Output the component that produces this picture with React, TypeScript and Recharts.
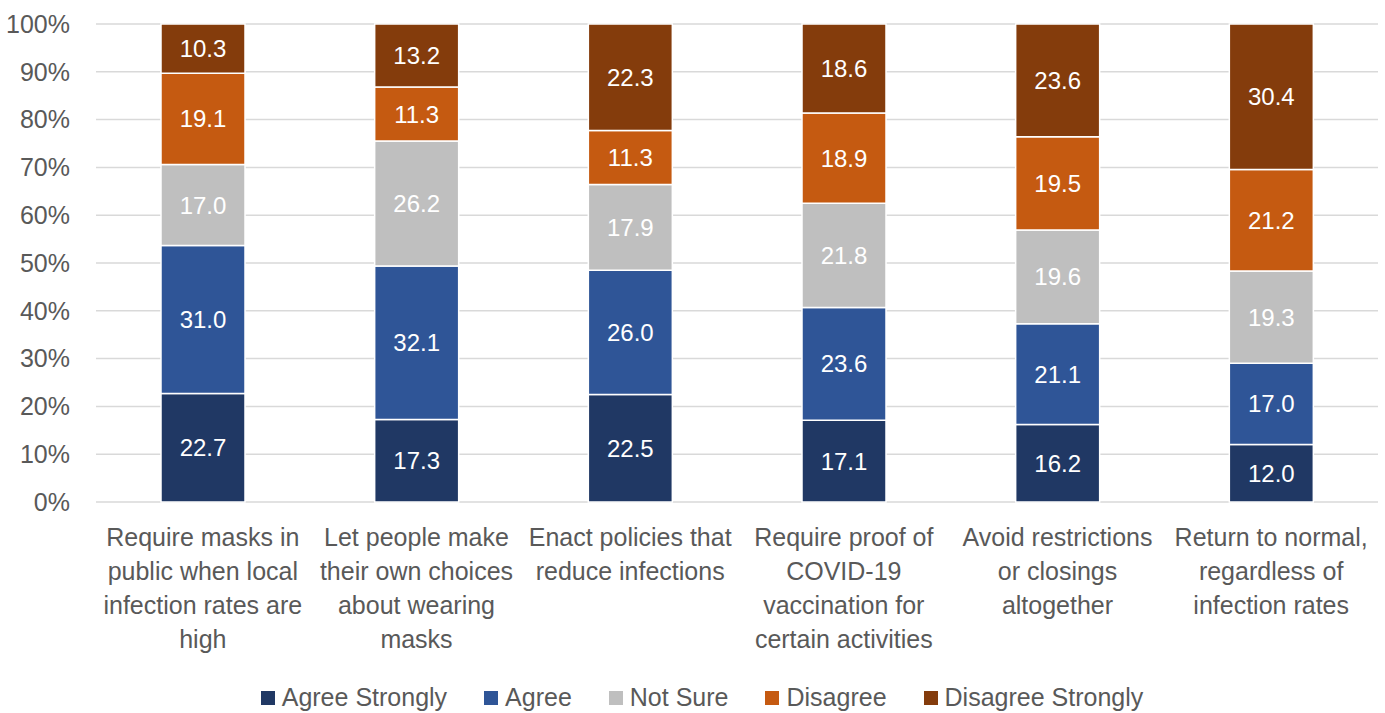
import { BarChart, Bar, XAxis, YAxis, CartesianGrid, Legend, LabelList } from 'recharts';

const categories = [
  'Require masks in public when local infection rates are high',
  'Let people make their own choices about wearing masks',
  'Enact policies that reduce infections',
  'Require proof of COVID-19 vaccination for certain activities',
  'Avoid restrictions or closings altogether',
  'Return to normal, regardless of infection rates',
];

// how the category labels wrap in the reference
const categoryLines = [
  ['Require masks in', 'public when local', 'infection rates are', 'high'],
  ['Let people make', 'their own choices', 'about wearing', 'masks'],
  ['Enact policies that', 'reduce infections'],
  ['Require proof of', 'COVID-19', 'vaccination for', 'certain activities'],
  ['Avoid restrictions', 'or closings', 'altogether'],
  ['Return to normal,', 'regardless of', 'infection rates'],
];

const agreeStrongly = [22.7, 17.3, 22.5, 17.1, 16.2, 12.0];
const agree = [31.0, 32.1, 26.0, 23.6, 21.1, 17.0];
const notSure = [17.0, 26.2, 17.9, 21.8, 19.6, 19.3];
const disagree = [19.1, 11.3, 11.3, 18.9, 19.5, 21.2];
const disagreeStrongly = [10.3, 13.2, 22.3, 18.6, 23.6, 30.4];

const yTicks = [0, 0.1, 0.2, 0.3, 0.4, 0.5, 0.6, 0.7, 0.8, 0.9, 1];

const series = [
  { key: 'agreeStrongly', name: 'Agree Strongly', color: '#203864' },
  { key: 'agree', name: 'Agree', color: '#2F5597' },
  { key: 'notSure', name: 'Not Sure', color: '#BFBFBF' },
  { key: 'disagree', name: 'Disagree', color: '#C55A11' },
  { key: 'disagreeStrongly', name: 'Disagree Strongly', color: '#843C0C' },
];

const FONT = '"Liberation Sans", Arial, sans-serif';
const TEXT = '#595959';

const data = categories.map((name, i) => ({
  name,
  agreeStrongly: agreeStrongly[i],
  agree: agree[i],
  notSure: notSure[i],
  disagree: disagree[i],
  disagreeStrongly: disagreeStrongly[i],
}));

function CategoryTick({ x, y, index }: any) {
  const lines = categoryLines[index] || [];
  return (
    <text x={x} y={y} textAnchor="middle" fill={TEXT} fontSize={25} fontFamily={FONT}>
      {lines.map((l, i) => (
        <tspan key={i} x={x} dy={i === 0 ? 36 : 34}>
          {l}
        </tspan>
      ))}
    </text>
  );
}

function LegendContent() {
  return (
    <div
      style={{
        display: 'flex',
        justifyContent: 'center',
        alignItems: 'center',
        fontFamily: FONT,
        fontSize: 25,
        color: TEXT,
        paddingTop: 10,
        paddingLeft: 26,
      }}
    >
      {series.map((s, i) => (
        <div key={s.key} style={{ display: 'flex', alignItems: 'center', marginLeft: i === 0 ? 0 : 37 }}>
          <span style={{ width: 14, height: 14, background: s.color, display: 'inline-block', marginRight: 7 }} />
          <span>{s.name}</span>
        </div>
      ))}
    </div>
  );
}

export default function App() {
  return (
    <div style={{ position: 'absolute', left: 0, top: 0, background: '#fff' }}>
      <BarChart
        width={1385}
        height={713}
        data={data}
        stackOffset="expand"
        barSize={84}
        margin={{ top: 24, right: 7, bottom: 0, left: 0 }}
      >
        <CartesianGrid vertical={false} stroke="#D9D9D9" strokeWidth={1.5} />
        <XAxis
          dataKey="name"
          axisLine={false}
          tickLine={false}
          interval={0}
          height={171}
          tick={<CategoryTick />}
        />
        <YAxis
          domain={[0, 1]}
          ticks={yTicks}
          tickFormatter={(v: number) => `${Math.round(v * 100)}%`}
          axisLine={false}
          tickLine={false}
          tickSize={0}
          tickMargin={26}
          width={96}
          tick={{ fontSize: 25, fill: TEXT, fontFamily: FONT }}
        />
        <Legend verticalAlign="bottom" height={40} content={<LegendContent />} />
        {series.map((s) => (
          <Bar
            key={s.key}
            dataKey={s.key}
            name={s.name}
            stackId="a"
            fill={s.color}
            stroke="#fff"
            strokeWidth={1.5}
            isAnimationActive={false}
          >
            <LabelList
              dataKey={s.key}
              position="center"
              fill="#fff"
              fontSize={24}
              fontFamily={FONT}
              formatter={(v: any) => Number(v).toFixed(1)}
            />
          </Bar>
        ))}
      </BarChart>
    </div>
  );
}
